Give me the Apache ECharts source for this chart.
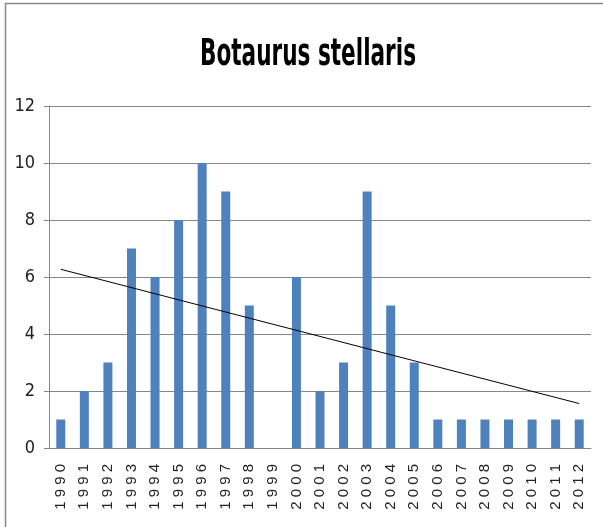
<!DOCTYPE html>
<html lang="en">
<head>
    <meta charset="UTF-8">
    <title>Botaurus stellaris</title>
    <script src="https://cdn.jsdelivr.net/npm/echarts@6/dist/echarts.min.js"></script>
    <style>
        html, body { margin: 0; padding: 0; background: #fff; }
        #chart { width: 603px; height: 527px; }
    </style>
</head>
<body>
<div id="chart"></div>
<script type="text/javascript">
    var chartTitle = 'Botaurus stellaris';
    var years = ['1990', '1991', '1992', '1993', '1994', '1995', '1996', '1997', '1998', '1999', '2000', '2001',
        '2002', '2003', '2004', '2005', '2006', '2007', '2008', '2009', '2010', '2011', '2012'];
    var counts = [1, 2, 3, 7, 6, 8, 10, 9, 5, 0, 6, 2, 3, 9, 5, 3, 1, 1, 1, 1, 1, 1, 1];
    // linear trendline at its two ends (1990 and 2012)
    var trendStart = 6.27;
    var trendEnd = 1.56;
    var yTicks = [0, 2, 4, 6, 8, 10, 12];

    var trend = years.map(function (y, i) {
        if (i === 0) return trendStart;
        if (i === years.length - 1) return trendEnd;
        return null;
    });

    var chart = echarts.init(document.getElementById('chart'));
    var option = {
        animation: false,
        backgroundColor: '#fff',
        graphic: [{
            type: 'polyline',
            shape: { points: [[5.5, 527], [5.5, 3.5], [603, 3.5]] },
            style: { stroke: '#888', lineWidth: 1.5, fill: null }
        }, {
            // title, tall narrow like the original (stretched vertically)
            type: 'text',
            x: 308,
            y: 55,
            scaleY: 1.55,
            style: {
                text: chartTitle,
                fontFamily: '"DejaVu Sans", sans-serif',
                fontWeight: 'bold condensed',
                fontSize: 24,
                fill: '#000',
                align: 'center',
                verticalAlign: 'middle'
            }
        }],
        grid: { left: 49, right: 12, top: 106, bottom: 79 },
        xAxis: {
            type: 'category',
            data: years,
            axisLine: { lineStyle: { color: '#868686' } },
            axisTick: { length: 5, lineStyle: { color: '#868686' } },
            axisLabel: {
                rotate: 90,
                interval: 0,
                margin: 16,
                color: '#222',
                fontSize: 15,
                fontFamily: '"Liberation Sans", Arial, sans-serif',
                formatter: function (v) { return v.split('').join(' '); }
            }
        },
        yAxis: {
            type: 'value',
            min: yTicks[0],
            max: yTicks[yTicks.length - 1],
            interval: 2,
            axisLine: { show: true, lineStyle: { color: '#868686' } },
            axisTick: { show: true, length: 5, lineStyle: { color: '#868686' } },
            axisLabel: {
                margin: 14,
                color: '#222',
                fontSize: 18,
                fontWeight: 'normal condensed',
                fontFamily: '"DejaVu Sans", sans-serif'
            },
            splitLine: { lineStyle: { color: '#868686' } }
        },
        series: [{
            type: 'bar',
            data: counts,
            barWidth: 9,
            itemStyle: { color: '#4F81BD' }
        }, {
            type: 'line',
            data: trend,
            connectNulls: true,
            symbol: 'none',
            lineStyle: { color: '#000', width: 1 },
            z: 5
        }]
    };
    chart.setOption(option);
    window.addEventListener('resize', function () {
        chart.resize();
    });
</script>
</body>
</html>
